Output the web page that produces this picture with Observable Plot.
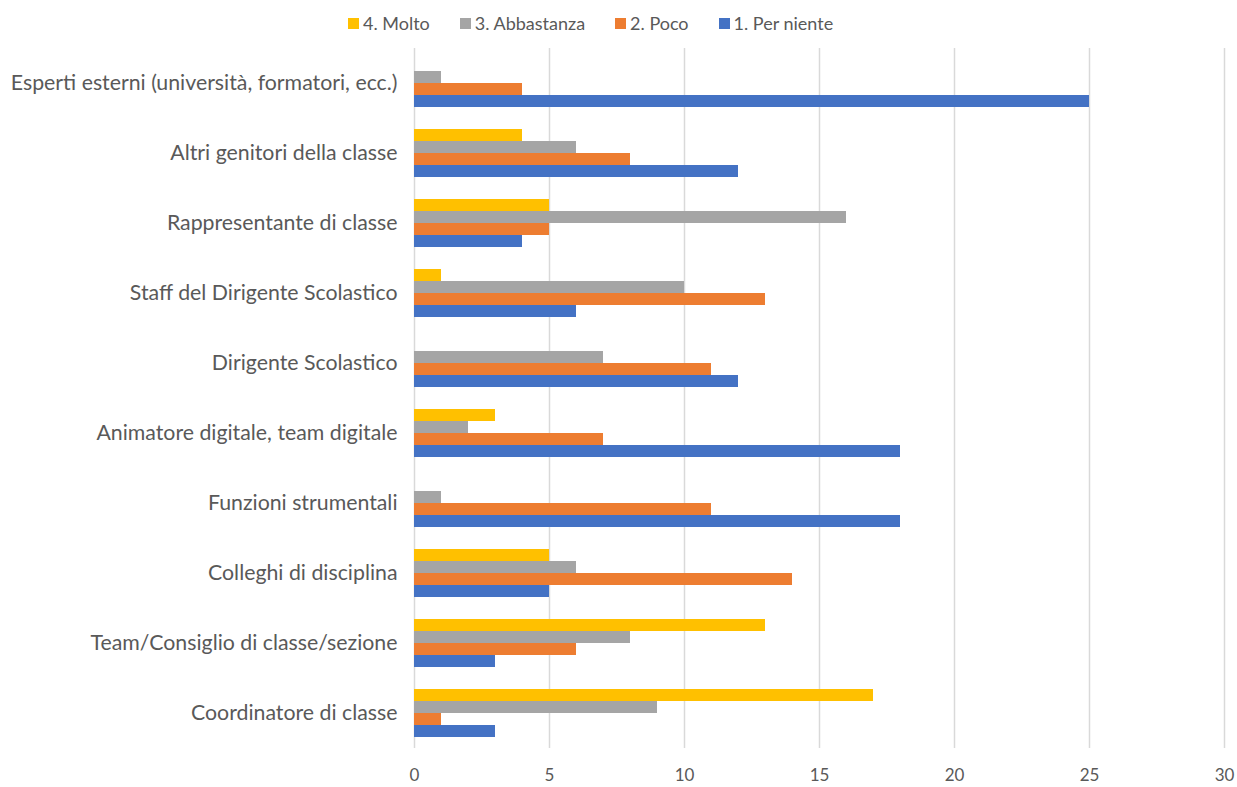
<!DOCTYPE html>
<html>
<head>
<meta charset="utf-8">
<script src="https://cdn.jsdelivr.net/npm/d3@7"></script>
<script src="https://cdn.jsdelivr.net/npm/@observablehq/plot@0.6"></script>
<style>
  body { margin: 0; background: #fff; font-family: Lato, "Open Sans", sans-serif; }
  #legend { height: 40px; position: relative; font-size: 18px; color: #595959; }
  #legend .items { position: absolute; left: 348px; top: 12px; display: flex; gap: 30px; align-items: center; }
  #legend .item { display: flex; align-items: center; gap: 4px; }
  #legend .sw { width: 11px; height: 11px; display: inline-block; }
</style>
</head>
<body>
<div id="legend"><div class="items"></div></div>
<div id="chart"></div>
<script>
const categories = [
  "Esperti esterni (università, formatori, ecc.)",
  "Altri genitori della classe",
  "Rappresentante di classe",
  "Staff del Dirigente Scolastico",
  "Dirigente Scolastico",
  "Animatore digitale, team digitale",
  "Funzioni strumentali",
  "Colleghi di disciplina",
  "Team/Consiglio di classe/sezione",
  "Coordinatore di classe"
];
const seriesNames = ["4. Molto", "3. Abbastanza", "2. Poco", "1. Per niente"];
const seriesColors = ["#FFC000", "#A5A5A5", "#ED7D31", "#4472C4"];
const molto      = [0, 4, 5, 1, 0, 3, 0, 5, 13, 17];
const abbastanza = [1, 6, 16, 10, 7, 2, 1, 6, 8, 9];
const poco       = [4, 8, 5, 13, 11, 7, 11, 14, 6, 1];
const perNiente  = [25, 12, 4, 6, 12, 18, 18, 5, 3, 3];
const xTicks = [0, 5, 10, 15, 20, 25, 30];

const seriesValues = [molto, abbastanza, poco, perNiente];
const rows = categories.flatMap((c, i) =>
  seriesNames.map((s, j) => ({category: c, series: s, value: seriesValues[j][i]}))
);

// legend
const items = document.querySelector("#legend .items");
seriesNames.forEach((s, j) => {
  const it = document.createElement("div");
  it.className = "item";
  const sw = document.createElement("span");
  sw.className = "sw";
  sw.style.background = seriesColors[j];
  const t = document.createElement("span");
  t.textContent = s;
  it.append(sw, t);
  items.append(it);
});

const chart = Plot.plot({
  width: 1237,
  height: 747,
  marginLeft: 414,
  marginRight: 13,
  marginTop: 6,
  marginBottom: 37,
  style: {fontFamily: "Lato, 'Open Sans', sans-serif", fontSize: "17px", color: "#595959", background: "#fff"},
  x: {domain: [0, 30], label: null},
  y: {domain: seriesNames, paddingInner: 0, paddingOuter: 0.85, axis: null},
  fy: {domain: categories, padding: 0, label: null},
  color: {domain: seriesNames, range: seriesColors},
  marks: [
    Plot.ruleX(xTicks, {stroke: "#d9d9d9", strokeWidth: 1.5}),
    Plot.barX(rows, {x: "value", y: "series", fy: "category", fill: "series"}),
    Plot.axisX({ticks: xTicks, tickSize: 0, tickPadding: 20, label: null, fontSize: 17}),
    Plot.axisFy({anchor: "left", tickSize: 0, tickPadding: 17, label: null, fontSize: 21.3})
  ]
});
document.getElementById("chart").append(chart);
</script>
</body>
</html>
